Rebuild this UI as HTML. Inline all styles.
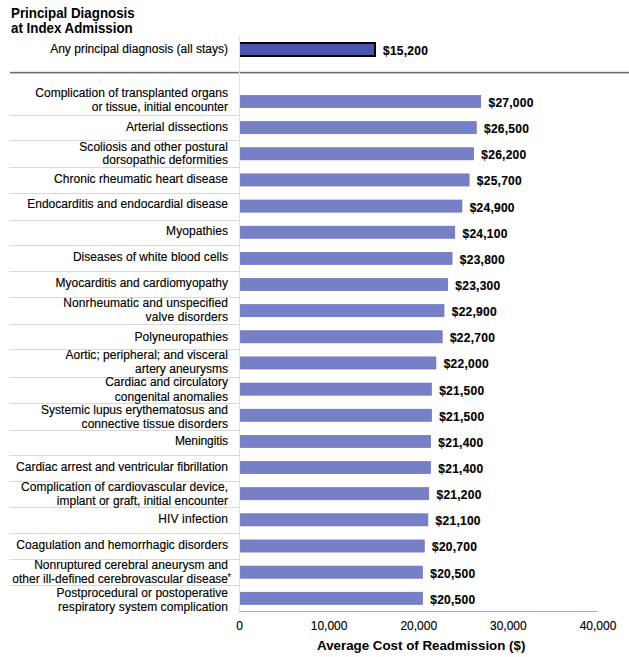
<!DOCTYPE html>
<html><head><meta charset="utf-8"><style>
html,body{margin:0;padding:0;background:#fff;}
body{width:629px;height:657px;position:relative;overflow:hidden;font-family:"Liberation Sans",sans-serif;color:#000;}
div{position:absolute;}
svg{position:absolute;left:0;top:0;}
.t{font-weight:bold;font-size:13.33px;line-height:15px;white-space:nowrap;transform:scaleY(1.1);transform-origin:0 12px;}
.lab{right:401px;text-align:right;font-size:12px;line-height:14px;white-space:nowrap;-webkit-text-stroke:0.15px #000;}
.val{font-weight:bold;font-size:12px;line-height:14px;white-space:nowrap;letter-spacing:0.25px;-webkit-text-stroke:0.15px #000;}
.tick{width:80px;text-align:center;font-size:12px;line-height:14px;-webkit-text-stroke:0.15px #000;}
.axt{font-weight:bold;font-size:13.33px;line-height:15px;white-space:nowrap;}
.star{font-size:10px;line-height:10px;}
</style></head><body>
<svg width="629" height="657" viewBox="0 0 629 657">
<rect x="10" y="71" width="619" height="1" fill="#e8e8e8"/>
<rect x="10" y="72" width="619" height="1" fill="#6c6c6c"/>
<rect x="10" y="73" width="619" height="1" fill="#c4c4c4"/>
<rect x="239" y="36" width="1" height="576" fill="#e2e2e2"/>
<rect x="9.5" y="115" width="229.5" height="1" fill="#d9d9d9"/>
<rect x="9.5" y="140" width="229.5" height="1" fill="#d9d9d9"/>
<rect x="9.5" y="167" width="229.5" height="1" fill="#d9d9d9"/>
<rect x="9.5" y="193" width="229.5" height="1" fill="#d9d9d9"/>
<rect x="9.5" y="220" width="229.5" height="1" fill="#d9d9d9"/>
<rect x="9.5" y="245" width="229.5" height="1" fill="#d9d9d9"/>
<rect x="9.5" y="271" width="229.5" height="1" fill="#d9d9d9"/>
<rect x="9.5" y="297" width="229.5" height="1" fill="#d9d9d9"/>
<rect x="9.5" y="324" width="229.5" height="1" fill="#d9d9d9"/>
<rect x="9.5" y="349" width="229.5" height="1" fill="#d9d9d9"/>
<rect x="9.5" y="377" width="229.5" height="1" fill="#d9d9d9"/>
<rect x="9.5" y="403" width="229.5" height="1" fill="#d9d9d9"/>
<rect x="9.5" y="430" width="229.5" height="1" fill="#d9d9d9"/>
<rect x="9.5" y="455" width="229.5" height="1" fill="#d9d9d9"/>
<rect x="9.5" y="481" width="229.5" height="1" fill="#d9d9d9"/>
<rect x="9.5" y="507" width="229.5" height="1" fill="#d9d9d9"/>
<rect x="9.5" y="533" width="229.5" height="1" fill="#d9d9d9"/>
<rect x="9.5" y="559" width="229.5" height="1" fill="#d9d9d9"/>
<rect x="9.5" y="585" width="229.5" height="1" fill="#d9d9d9"/>
<rect x="239" y="611" width="359" height="1" fill="#b0b0b0"/>
<rect x="240" y="42" width="136" height="15" fill="#000"/>
<rect x="240" y="44" width="134" height="11" fill="#4953b0"/>
<rect x="240.35" y="95.45" width="240.39" height="12.10" fill="#7780c6" stroke="#6b72bf" stroke-width="0.7"/>
<rect x="240.35" y="121.60" width="235.91" height="12.10" fill="#7780c6" stroke="#6b72bf" stroke-width="0.7"/>
<rect x="240.35" y="147.74" width="233.22" height="12.10" fill="#7780c6" stroke="#6b72bf" stroke-width="0.7"/>
<rect x="240.35" y="173.89" width="228.74" height="12.10" fill="#7780c6" stroke="#6b72bf" stroke-width="0.7"/>
<rect x="240.35" y="200.04" width="221.57" height="12.10" fill="#7780c6" stroke="#6b72bf" stroke-width="0.7"/>
<rect x="240.35" y="226.18" width="214.40" height="12.10" fill="#7780c6" stroke="#6b72bf" stroke-width="0.7"/>
<rect x="240.35" y="252.33" width="211.71" height="12.10" fill="#7780c6" stroke="#6b72bf" stroke-width="0.7"/>
<rect x="240.35" y="278.48" width="207.23" height="12.10" fill="#7780c6" stroke="#6b72bf" stroke-width="0.7"/>
<rect x="240.35" y="304.63" width="203.64" height="12.10" fill="#7780c6" stroke="#6b72bf" stroke-width="0.7"/>
<rect x="240.35" y="330.77" width="201.85" height="12.10" fill="#7780c6" stroke="#6b72bf" stroke-width="0.7"/>
<rect x="240.35" y="356.92" width="195.58" height="12.10" fill="#7780c6" stroke="#6b72bf" stroke-width="0.7"/>
<rect x="240.35" y="383.07" width="191.09" height="12.10" fill="#7780c6" stroke="#6b72bf" stroke-width="0.7"/>
<rect x="240.35" y="409.21" width="191.09" height="12.10" fill="#7780c6" stroke="#6b72bf" stroke-width="0.7"/>
<rect x="240.35" y="435.36" width="190.20" height="12.10" fill="#7780c6" stroke="#6b72bf" stroke-width="0.7"/>
<rect x="240.35" y="461.51" width="190.20" height="12.10" fill="#7780c6" stroke="#6b72bf" stroke-width="0.7"/>
<rect x="240.35" y="487.65" width="188.41" height="12.10" fill="#7780c6" stroke="#6b72bf" stroke-width="0.7"/>
<rect x="240.35" y="513.80" width="187.51" height="12.10" fill="#7780c6" stroke="#6b72bf" stroke-width="0.7"/>
<rect x="240.35" y="539.95" width="183.92" height="12.10" fill="#7780c6" stroke="#6b72bf" stroke-width="0.7"/>
<rect x="240.35" y="566.10" width="182.13" height="12.10" fill="#7780c6" stroke="#6b72bf" stroke-width="0.7"/>
<rect x="240.35" y="592.24" width="182.13" height="12.10" fill="#7780c6" stroke="#6b72bf" stroke-width="0.7"/>
</svg>
<div class="lab" style="top:42px"><span style="letter-spacing:0.012px;margin-right:-0.012px">Any principal diagnosis (all stays)</span></div>
<div class="val" style="left:488.49px;top:96px">$27,000</div>
<div class="lab" style="top:86px"><span style="letter-spacing:0.018px;margin-right:-0.018px">Complication of transplanted organs</span></div>
<div class="lab" style="top:100px"><span style="letter-spacing:0.004px;margin-right:-0.004px">or tissue, initial encounter</span></div>
<div class="val" style="left:484.01px;top:122px">$26,500</div>
<div class="lab" style="top:120px"><span style="letter-spacing:0.068px;margin-right:-0.068px">Arterial dissections</span></div>
<div class="val" style="left:481.32px;top:148px">$26,200</div>
<div class="lab" style="top:140px"><span style="letter-spacing:0.048px;margin-right:-0.048px">Scoliosis and other postural</span></div>
<div class="lab" style="top:153px"><span style="letter-spacing:0.068px;margin-right:-0.068px">dorsopathic deformities</span></div>
<div class="val" style="left:476.84px;top:174px">$25,700</div>
<div class="lab" style="top:172px"><span style="letter-spacing:0.040px;margin-right:-0.040px">Chronic rheumatic heart disease</span></div>
<div class="val" style="left:469.67px;top:201px">$24,900</div>
<div class="lab" style="top:197px"><span style="letter-spacing:0.040px;margin-right:-0.040px">Endocarditis and endocardial disease</span></div>
<div class="val" style="left:462.50px;top:227px">$24,100</div>
<div class="lab" style="top:224px"><span style="letter-spacing:0.056px;margin-right:-0.056px">Myopathies</span></div>
<div class="val" style="left:459.81px;top:253px">$23,800</div>
<div class="lab" style="top:250px"><span style="letter-spacing:0.036px;margin-right:-0.036px">Diseases of white blood cells</span></div>
<div class="val" style="left:455.33px;top:279px">$23,300</div>
<div class="lab" style="top:276px"><span style="letter-spacing:0.014px;margin-right:-0.014px">Myocarditis and cardiomyopathy</span></div>
<div class="val" style="left:451.74px;top:305px">$22,900</div>
<div class="lab" style="top:296px"><span style="letter-spacing:0.096px;margin-right:-0.096px">Nonrheumatic and unspecified</span></div>
<div class="lab" style="top:310px"><span style="letter-spacing:0.121px;margin-right:-0.121px">valve disorders</span></div>
<div class="val" style="left:449.95px;top:331px">$22,700</div>
<div class="lab" style="top:330px"><span style="letter-spacing:0.053px;margin-right:-0.053px">Polyneuropathies</span></div>
<div class="val" style="left:443.68px;top:357px">$22,000</div>
<div class="lab" style="top:348px"><span style="letter-spacing:0.035px;margin-right:-0.035px">Aortic; peripheral; and visceral</span></div>
<div class="lab" style="top:362px"><span style="letter-spacing:0.013px;margin-right:-0.013px">artery aneurysms</span></div>
<div class="val" style="left:439.19px;top:384px">$21,500</div>
<div class="lab" style="top:375px"><span style="letter-spacing:0.005px;margin-right:-0.005px">Cardiac and circulatory</span></div>
<div class="lab" style="top:390px"><span style="letter-spacing:0.021px;margin-right:-0.021px">congenital anomalies</span></div>
<div class="val" style="left:439.19px;top:410px">$21,500</div>
<div class="lab" style="top:403px"><span style="letter-spacing:0.029px;margin-right:-0.029px">Systemic lupus erythematosus and</span></div>
<div class="lab" style="top:417px"><span style="letter-spacing:0.065px;margin-right:-0.065px">connective tissue disorders</span></div>
<div class="val" style="left:438.30px;top:436px">$21,400</div>
<div class="lab" style="top:434px"><span style="letter-spacing:-0.100px;margin-right:0.100px">Meningitis</span></div>
<div class="val" style="left:438.30px;top:462px">$21,400</div>
<div class="lab" style="top:460px"><span style="letter-spacing:0.012px;margin-right:-0.012px">Cardiac arrest and ventricular fibrillation</span></div>
<div class="val" style="left:436.50px;top:488px">$21,200</div>
<div class="lab" style="top:480px"><span style="letter-spacing:0.057px;margin-right:-0.057px">Complication of cardiovascular device,</span></div>
<div class="lab" style="top:494px"><span style="letter-spacing:0.012px;margin-right:-0.012px">implant or graft, initial encounter</span></div>
<div class="val" style="left:435.61px;top:514px">$21,100</div>
<div class="lab" style="top:512px"><span style="letter-spacing:0.150px;margin-right:-0.150px">HIV infection</span></div>
<div class="val" style="left:432.02px;top:540px">$20,700</div>
<div class="lab" style="top:538px"><span style="letter-spacing:0.042px;margin-right:-0.042px">Coagulation and hemorrhagic disorders</span></div>
<div class="val" style="left:430.23px;top:567px">$20,500</div>
<div class="lab" style="top:558px"><span style="letter-spacing:0.034px;margin-right:-0.034px">Nonruptured cerebral aneurysm and</span></div>
<div class="lab" style="top:572px"><span style="letter-spacing:0.005px;margin-right:-0.005px">other ill-defined cerebrovascular disease</span></div>
<div class="val" style="left:430.23px;top:593px">$20,500</div>
<div class="lab" style="top:586px"><span style="letter-spacing:0.047px;margin-right:-0.047px">Postprocedural or postoperative</span></div>
<div class="lab" style="top:600px"><span style="letter-spacing:0.063px;margin-right:-0.063px">respiratory system complication</span></div>
<div class="val" style="left:383px;top:43.5px">$15,200</div>
<div class="star" style="left:227.3px;top:573px">*</div>
<div class="tick" style="left:199.50px;top:619px">0</div>
<div class="tick" style="left:289.12px;top:619px">10,000</div>
<div class="tick" style="left:378.75px;top:619px">20,000</div>
<div class="tick" style="left:468.38px;top:619px">30,000</div>
<div class="tick" style="left:558.00px;top:619px">40,000</div>
<div class="t" style="left:11px;top:6px">Principal Diagnosis</div>
<div class="t" style="left:11px;top:20.5px">at Index Admission</div>
<div class="axt" style="left:317px;top:638px">Average Cost of Readmission ($)</div>
</body></html>
